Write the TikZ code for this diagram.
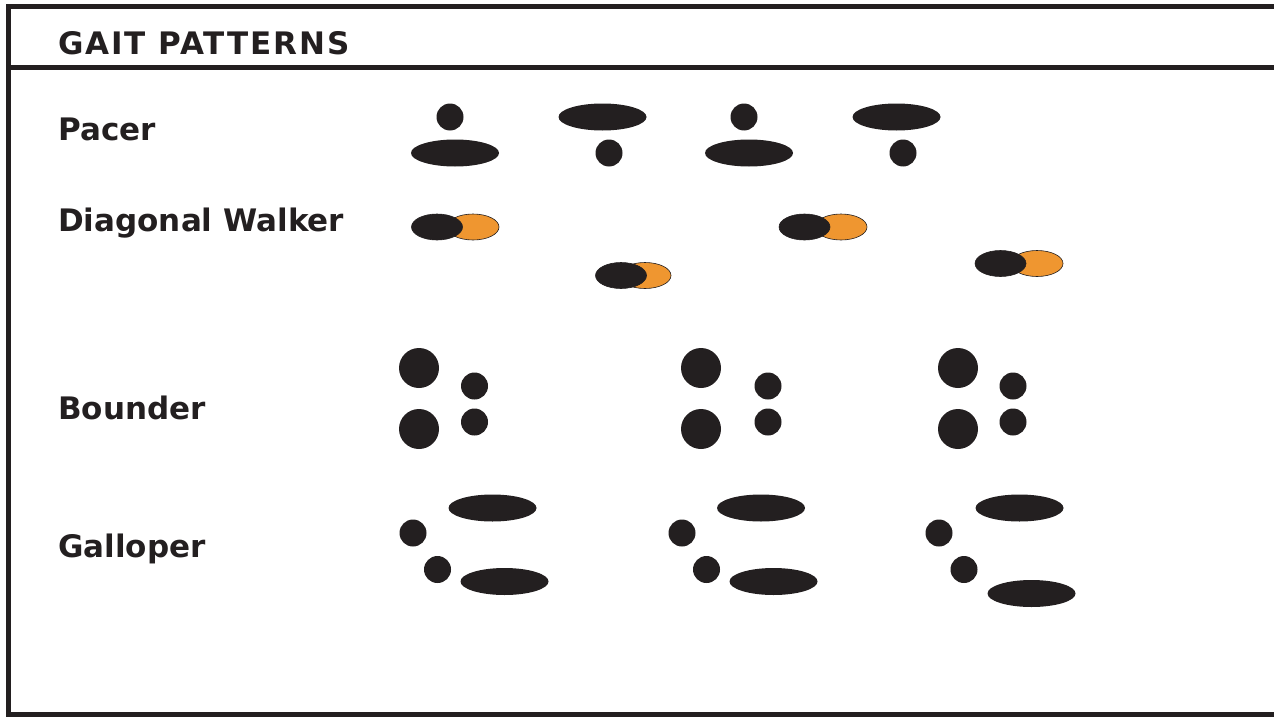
\documentclass[tikz,border=0pt]{standalone}
\usepackage{fontspec}
\setmainfont{DejaVu Sans}
\newfontfamily\titlefont[LetterSpace=6]{DejaVu Sans}
\usepackage{xcolor}
\usepackage{tikz}
\usetikzlibrary{shapes.geometric}

\definecolor{printblack}{HTML}{231F20}
\definecolor{paworange}{HTML}{EF9630}

\begin{document}
\begin{tikzpicture}[
    x=1pt, y=-1pt,
    frame/.style={draw=printblack, line width=5pt},
    gaitlabel/.style={anchor=base west, inner sep=0pt, text=printblack, font=\bfseries\fontsize{31}{36}\selectfont},
    toe/.style={circle, fill=printblack, inner sep=0pt, minimum size=27pt},
    bigtoe/.style={toe, minimum size=40pt},
    sole/.style={ellipse, fill=printblack, inner sep=0pt, minimum width=88pt, minimum height=27pt},
    hind/.style={ellipse, fill=printblack, draw=printblack, line width=0.6pt, inner sep=0pt, minimum width=51pt, minimum height=26pt},
    fore/.style={hind, fill=paworange, minimum width=52pt},
]
\useasboundingbox (0,0) rectangle (1274,717);

% Frame and header rule
\draw[frame, line join=miter] (1274,7) -- (8.5,7) -- (8.5,714.5) -- (1274,714.5);
\draw[frame] (8.5,68) -- (1274,68);

% Labels
\node[gaitlabel, font=\titlefont\bfseries\fontsize{31}{36}\selectfont] (title) at (58,55) {GAIT PATTERNS};
\node[gaitlabel] (pacer) at (58,140) {Pacer};
\node[gaitlabel] (walker) at (58,231) {Diagonal Walker};
\node[gaitlabel] (bounder) at (58,419) {Bounder};
\node[gaitlabel] (galloper) at (58,557) {Galloper};

% Pacer
\node[toe] (pa1) at (450,117) {};
\node[sole] (pa2) at (455,153) {};
\node[sole] (pa3) at (602.5,117) {};
\node[toe] (pa4) at (609,153) {};
\node[toe] (pa5) at (744,117) {};
\node[sole] (pa6) at (749,153) {};
\node[sole] (pa7) at (896.5,117) {};
\node[toe] (pa8) at (903,153) {};

% Diagonal walker (orange under black)
\node[fore] (wf1) at (473,227) {};
\node[hind] (wh1) at (437,227) {};
\node[fore] (wf2) at (645,275.5) {};
\node[hind] (wh2) at (621,275.5) {};
\node[fore] (wf3) at (841,227) {};
\node[hind] (wh3) at (804.5,227) {};
\node[fore] (wf4) at (1037,263.5) {};
\node[hind] (wh4) at (1000.5,263.5) {};

% Bounder
\node[bigtoe] (b1) at (419,368) {};
\node[bigtoe] (b2) at (419,429) {};
\node[toe] (b3) at (474.5,386) {};
\node[toe] (b4) at (474.5,422) {};
\node[bigtoe] (b5) at (701,368) {};
\node[bigtoe] (b6) at (701,429) {};
\node[toe] (b7) at (768,386) {};
\node[toe] (b8) at (768,422) {};
\node[bigtoe] (b9) at (958,368) {};
\node[bigtoe] (b10) at (958,429) {};
\node[toe] (b11) at (1013,386) {};
\node[toe] (b12) at (1013,422) {};

% Galloper
\node[sole] (g1) at (492.5,508) {};
\node[toe] (g2) at (413,533) {};
\node[toe] (g3) at (437.5,569.5) {};
\node[sole] (g4) at (504.5,581.5) {};
\node[sole] (g5) at (761,508) {};
\node[toe] (g6) at (682,533) {};
\node[toe] (g7) at (706.5,569.5) {};
\node[sole] (g8) at (773.5,581.5) {};
\node[sole] (g9) at (1019.5,508) {};
\node[toe] (g10) at (939,533) {};
\node[toe] (g11) at (964,569.5) {};
\node[sole] (g12) at (1031.5,593.5) {};

\end{tikzpicture}
\end{document}
